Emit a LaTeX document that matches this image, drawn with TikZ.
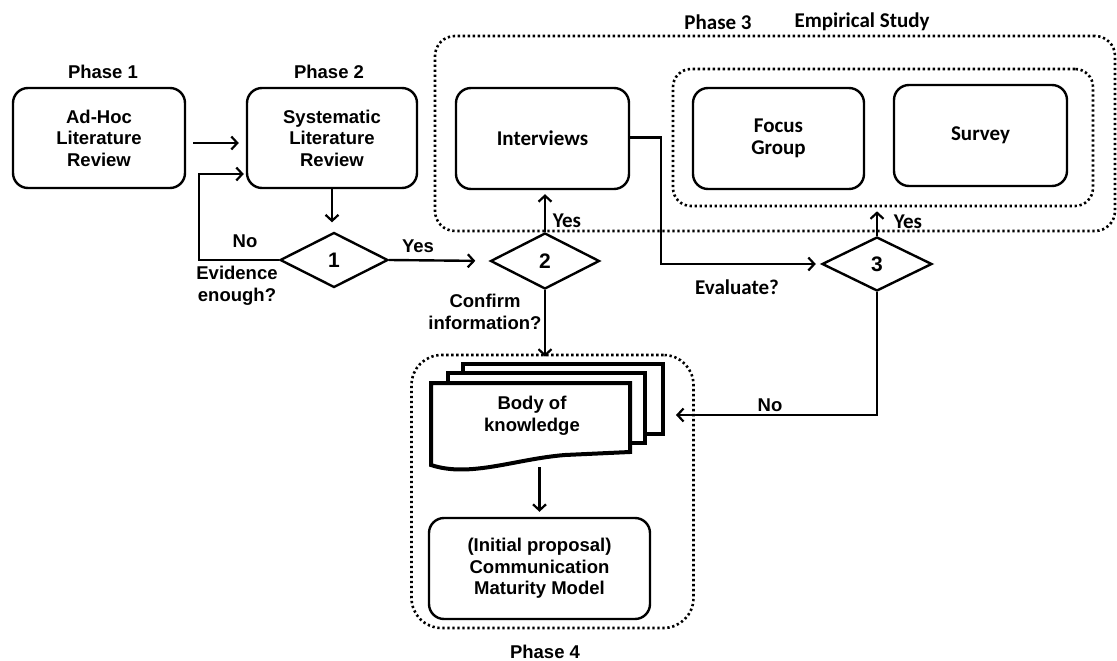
\documentclass[tikz,border=0pt]{standalone}
\usepackage{fontspec}
\setmainfont{Liberation Sans}
\newfontfamily\carlito{Carlito}
\usetikzlibrary{arrows.meta,shapes.geometric}

\begin{document}
\begin{tikzpicture}[x=1pt,y=-1pt,
  arial/.style={font=\fontsize{18.5}{21.5}\selectfont\bfseries},
  calib/.style={font=\fontsize{21}{22}\selectfont\carlito\bfseries},
  box/.style={draw, line width=2.4pt, rounded corners=15pt, align=center},
  decision/.style={draw, diamond, line width=2.4pt, inner sep=0pt,
    font=\fontsize{21}{22}\selectfont\bfseries},
  phasebox/.style={draw, line width=2.6pt, dash pattern=on 2.3pt off 2.7pt,
    rounded corners=20pt},
  page/.style={draw, line width=4pt, fill=white, inner sep=0pt},
  lbl/.style={align=center, inner sep=0pt},
  arr/.style={line width=2.4pt, -{Straight Barb[length=6pt,width=13pt,line width=2.2pt]}},
  link/.style={line width=2.4pt}
]
\useasboundingbox (0,0) rectangle (1117,661);

% phase containers
\node[phasebox, minimum width=680pt, minimum height=195pt] (phase3) at (775,133.5) {};
\node[phasebox, minimum width=420pt, minimum height=137pt, rounded corners=18pt] (empir) at (883,137.5) {};
\node[phasebox, minimum width=282pt, minimum height=273pt, rounded corners=30pt] (phase4) at (552.5,491.5) {};

% process boxes
\node[box, arial, minimum width=172pt, minimum height=100pt] (adhoc) at (99,138) {Ad-Hoc\\Literature\\Review};
\node[box, arial, minimum width=170pt, minimum height=100pt] (slr) at (332,138) {Systematic\\Literature\\Review};
\node[box, calib, minimum width=173pt, minimum height=101pt] (interviews) at (542.5,138.5) {Interviews};
\node[box, calib, minimum width=171pt, minimum height=101pt] (focus) at (778.5,138.5) {Focus\\Group};
\node[box, calib, minimum width=173pt, minimum height=101pt] (survey) at (980.5,135.5) {Survey};
\node[box, arial, minimum width=221pt, minimum height=101pt] (proposal) at (539.5,568.5)
  {(Initial proposal)\\Communication\\Maturity Model};

% decisions
\node[decision, minimum width=108pt, minimum height=55pt] (d1) at (334,260) {1};
\node[decision, minimum width=109pt, minimum height=56pt] (d2) at (545,261) {2};
\node[decision, minimum width=110pt, minimum height=54pt] (d3) at (877,264) {3};

% body of knowledge: stacked documents
\node[page, minimum width=200pt, minimum height=70pt] (bdoc) at (563,399) {};
\node[page, minimum width=197pt, minimum height=70pt] (mdoc) at (546.5,408) {};
\draw[line width=4pt, fill=white, line join=miter]
  (431,383) -- (630,383) -- (630,452) -- (565,455)
  .. controls (515,459) and (470,478) .. (431,465) -- cycle;
\node[lbl, arial] (bok) at (532,416) {Body of\\knowledge};
\coordinate (fdocb) at (539.5,467);

% phase and empirical titles
\node[lbl, arial] (p1) at (103,72) {Phase 1};
\node[lbl, arial] (p2) at (329,72) {Phase 2};
\node[lbl, calib] (p3) at (718,22) {Phase 3};
\node[lbl, calib] (emp) at (862,22) {Empirical Study};
\node[lbl, arial] (p4) at (545,652) {Phase 4};

% connectors
\draw[arr, shorten <=7pt, shorten >=7pt] ([yshift=-5pt]adhoc.east) -- ([yshift=-5pt]slr.west);
\draw[arr, shorten >=2pt] (d1.west) -- ++(-80,0) |- ([yshift=-36pt]slr.west);
\draw[arr, shorten >=9pt] (slr.south) -- (slr.south |- d1.north);
\draw[arr, shorten >=14pt] (d1.east) -- (d2.west);
\draw[arr, shorten >=4pt] (d2.north) -- (d2.north |- interviews.south);
\draw[arr, shorten >=5pt] ([yshift=1pt]interviews.east) -- ++(31,0) |- (d3.west);
\draw[arr, shorten >=4pt] (d3.north) -- (d3.north |- empir.south);
\draw[arr] (d3.south) |- ([xshift=11pt,yshift=-16pt]bdoc.east);
\draw[arr, shorten >=-3pt] (d2.south) -- (d2.south |- phase4.north);
\draw[arr, shorten >=5pt] (fdocb) -- (proposal.north);

% connector labels
\node[lbl, arial] (lno1) at (245,241) {No};
\node[lbl, arial] (lev) at (237,286) {Evidence\\enough?};
\node[lbl, arial] (lyes1) at (418,246) {Yes};
\node[lbl, calib] (lyes2) at (567,221) {Yes};
\node[lbl, calib] (lyes3) at (908,222) {Yes};
\node[lbl, calib] (leval) at (737,287) {Evaluate?};
\node[lbl, arial] (lconf) at (485,312) {Confirm\\information?};
\node[lbl, arial] (lno3) at (770,405) {No};
\end{tikzpicture}
\end{document}
